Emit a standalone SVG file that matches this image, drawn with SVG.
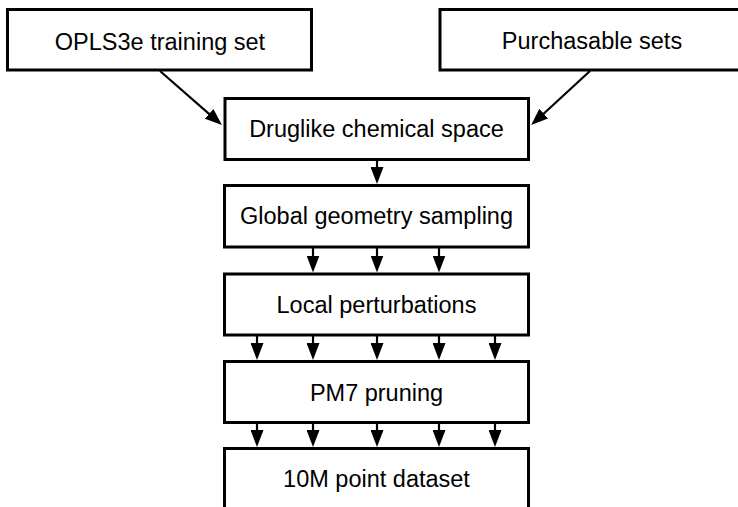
<svg xmlns="http://www.w3.org/2000/svg" width="738" height="507" viewBox="0 0 738 507">
<style>
.box{fill:#fff;stroke:#000;stroke-width:3}
.lbl{font-family:"Liberation Sans",Arial,sans-serif;font-size:23.5px;fill:#000;text-anchor:middle}
.con{fill:none;stroke:#000;stroke-width:2.2}
</style>
<defs>
<marker id="ah" viewBox="0 0 17 13" refX="9" refY="6.5" markerWidth="17" markerHeight="13" markerUnits="userSpaceOnUse" orient="auto">
<path d="M0,0 L17,6.5 L0,13 z" fill="#000"/>
</marker>
</defs>
<rect width="738" height="507" fill="#fff"/>
<g id="connectors">
<path class="con" d="M160,71 L215.9,119.8" marker-end="url(#ah)"/>
<path class="con" d="M590,71 L537.1,119.7" marker-end="url(#ah)"/>
<path class="con" d="M377,160 V176" marker-end="url(#ah)"/>
<path class="con" d="M313,248 V264.5" marker-end="url(#ah)"/>
<path class="con" d="M377,248 V264.5" marker-end="url(#ah)"/>
<path class="con" d="M439,248 V264.5" marker-end="url(#ah)"/>
<path class="con" d="M257,335.5 V352" marker-end="url(#ah)"/>
<path class="con" d="M313,335.5 V352" marker-end="url(#ah)"/>
<path class="con" d="M377,335.5 V352" marker-end="url(#ah)"/>
<path class="con" d="M439,335.5 V352" marker-end="url(#ah)"/>
<path class="con" d="M495,335.5 V352" marker-end="url(#ah)"/>
<path class="con" d="M257,423 V439" marker-end="url(#ah)"/>
<path class="con" d="M313,423 V439" marker-end="url(#ah)"/>
<path class="con" d="M377,423 V439" marker-end="url(#ah)"/>
<path class="con" d="M439,423 V439" marker-end="url(#ah)"/>
<path class="con" d="M495,423 V439" marker-end="url(#ah)"/>
</g>
<g id="opls">
<rect class="box" x="7.5" y="9.5" width="304" height="60.5"/>
<text class="lbl" x="160" y="49.5">OPLS3e training set</text>
</g>
<g id="purchasable">
<rect class="box" x="440" y="9.5" width="310" height="60.5"/>
<text class="lbl" x="592" y="48.5">Purchasable sets</text>
</g>
<g id="druglike">
<rect class="box" x="225" y="98.5" width="303.5" height="61"/>
<text class="lbl" x="376.5" y="137">Druglike chemical space</text>
</g>
<g id="global">
<rect class="box" x="224.5" y="185.5" width="304" height="61.5"/>
<text class="lbl" x="376.5" y="224">Global geometry sampling</text>
</g>
<g id="local">
<rect class="box" x="224.5" y="274" width="304" height="61"/>
<text class="lbl" x="376.5" y="313">Local perturbations</text>
</g>
<g id="pm7">
<rect class="box" x="224.5" y="361.5" width="304" height="61"/>
<text class="lbl" x="376.5" y="401">PM7 pruning</text>
</g>
<g id="dataset">
<rect class="box" x="224.5" y="448.5" width="304" height="70"/>
<text class="lbl" x="376.5" y="486.5">10M point dataset</text>
</g>
</svg>
